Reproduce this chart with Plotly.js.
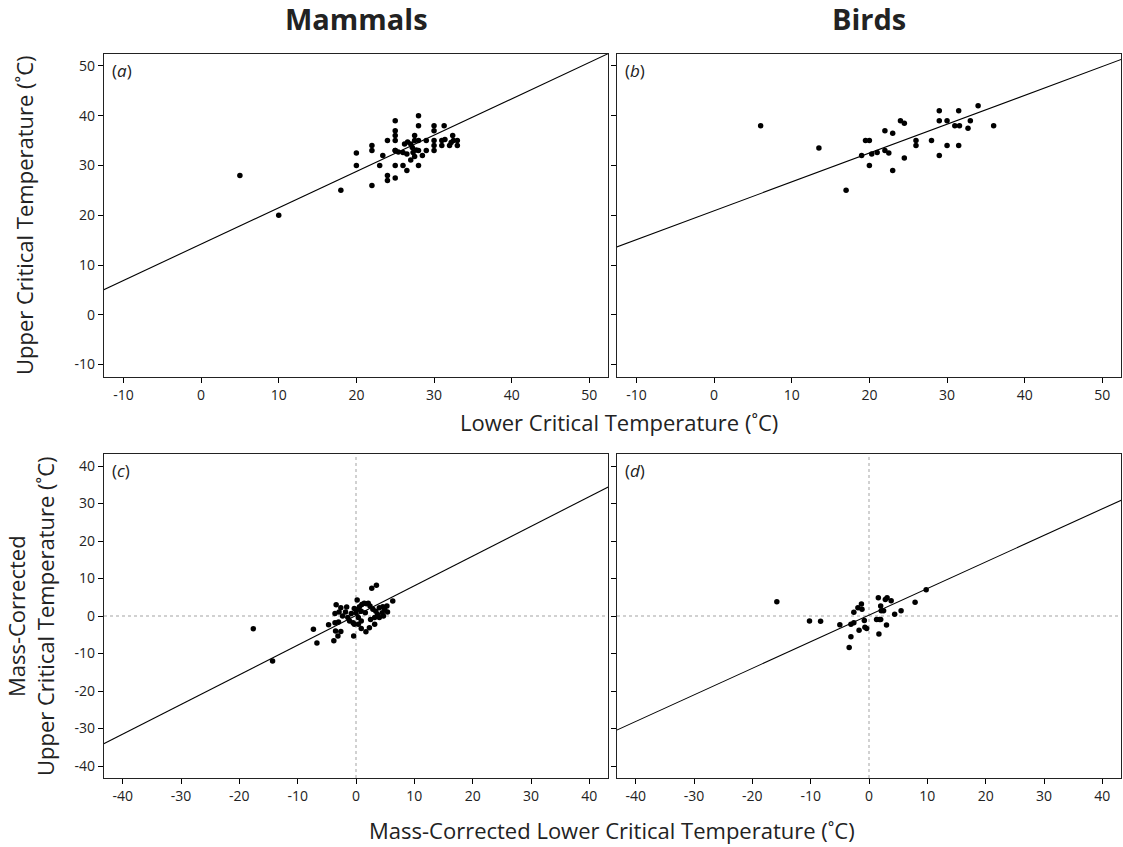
<!DOCTYPE html>
<html>
<head>
<meta charset="utf-8">
<script src="https://cdn.plot.ly/plotly-3.0.1.min.js"></script>
<style>html,body{margin:0;padding:0;background:#fff;}#chart{width:1123px;height:847px;}</style>
</head>
<body>
<div id="chart"></div>
<script>
// ---- Data: (a) Mammals, raw critical temperatures ----
const mammalsLCT = [5,10,18,20,20,22,22,22,23,23.4,24,24,24,25,25,25,25,25,25,25,25.4,25,26,26.5,26,26.5,26.2,26.6,27,27.5,27.5,28,27.2,27.7,27.3,27.5,27,28,28.5,28,28,28,29,29,30,30,30,30,30,31.3,31,31,31.4,32,32.4,32.5,32.2,33,33];
const mammalsUCT = [28,20,25,32.5,30,34,33,26,30,32,35,28,27,39,37,36,35,33,30,27.5,32.7,33,30,29,32.6,32.3,34.3,34.7,34.3,36,35,35,33.6,33.1,32.6,31.8,31.1,33,32,30,40,38,35,33,38,37,35,34,33,38,35,34,35.2,34,36,35,34.6,35,34];
// ---- (b) Birds, raw ----
const birdsLCT = [6,13.5,17,19,19.5,20,20,20.3,21,22,22,22.5,23,23,24,24.5,24.5,26,26,28,29,29,29,30,30,31,31.5,31.6,31.5,32.7,33,34,36];
const birdsUCT = [38,33.5,25,32,35,35,30,32.3,32.6,37,33,32.5,36.5,29,39,38.5,31.5,35,34,35,41,39,32,39,34,38,41,38,34,37.5,39,42,38];
// ---- (c) Mammals, mass-corrected ----
const mammalsMCL = [-17.6,-14.3,-7.3,-6.7,-4.7,-3.8,-3.5,-3.1,-2.6,-3.6,-3.0,-3.6,-3.4,-2.6,-2.9,-2.3,-1.6,-1.8,-1.4,-1.1,-0.8,-0.5,-0.4,-0.3,-0.3,0.2,0,0.3,0.4,0.6,0.9,1.0,1.4,1.8,2.1,2.4,1.6,0.9,0.9,1.7,2.3,2.5,3.2,2.7,3.5,2.9,3.4,3.7,4.0,4.5,4.7,4.9,5.3,5.4,4.6,6.3,3.2,4.0,0.4];
const mammalsMCU = [-3.4,-12.0,-3.5,-7.2,-2.3,-6.6,-4.0,-5.3,-4.1,-1.8,-1.6,0.7,3.0,2.2,1.1,0,2.4,1.1,-0.4,-1.3,0.7,-1.8,-5.3,-2.2,2.0,4.3,0.9,1.8,-0.4,2.5,1.3,3.1,3.4,3.3,3.4,2.7,0.9,-1.3,-3.3,-4.2,-3.1,-0.9,-2.2,7.4,8.2,1.8,1.3,0.4,2.2,0.9,0,1.8,2.7,1.1,2.5,4.0,-0.4,-0.4,-2.2];
// ---- (d) Birds, mass-corrected ----
const birdsMCL = [-15.8,-10.2,-8.3,-5.0,-3.4,-3.1,-3.1,-2.6,-2.6,-1.9,-1.3,-1.2,-1.7,-0.8,-0.7,-0.4,1.3,1.6,1.7,1.8,2.0,2.1,2.5,2.0,2.8,3.1,3.0,3.8,4.4,5.5,7.9,9.8];
const birdsMCU = [3.8,-1.3,-1.4,-2.3,-8.4,-5.5,-2.2,-1.8,1.0,2.2,3.2,1.8,-3.8,-1.2,-3.0,-3.3,-0.9,4.9,-4.8,-0.9,2.7,1.4,1.4,-0.9,4.4,4.9,-2.4,4.1,0.5,1.4,3.7,7.0];
// ---- Fitted lines: [intercept, slope] ----
const fitA = [14.2, 0.730];
const fitB = [20.9, 0.580];
const fitC = [0.15, 0.792];
const fitD = [0.23, 0.709];
// ---- Ticks ----
const rawTicks = [-10,0,10,20,30,40,50];
const rawTickText = ['-10','0','10','20','30','40','50'];
const mcTicks = [-40,-30,-20,-10,0,10,20,30,40];
const mcTickText = ['-40','-30','-20','-10','0','10','20','30','40'];
const panelLabels = ['a','b','c','d'];
const columnTitles = ['Mammals','Birds'];

const rawRange = [-12.5, 52.4];
const mcRange = [-43.2, 43.2];

function fitLine(fit, rng, xa, ya){
  const xs = [rng[0]-5, rng[1]+5];
  return {x: xs, y: xs.map(v => fit[0] + fit[1]*v), xaxis: xa, yaxis: ya,
    mode: 'lines', line: {color: '#000', width: 1.1}, hoverinfo: 'skip', showlegend: false};
}
function pts(xs, ys, xa, ya){
  return {x: xs, y: ys, xaxis: xa, yaxis: ya, mode: 'markers', type: 'scatter',
    marker: {color: '#000', size: 5.5}, showlegend: false, cliponaxis: true};
}

const traces = [
  fitLine(fitA, rawRange, 'x', 'y'), pts(mammalsLCT, mammalsUCT, 'x', 'y'),
  fitLine(fitB, rawRange, 'x2', 'y2'), pts(birdsLCT, birdsUCT, 'x2', 'y2'),
  fitLine(fitC, mcRange, 'x3', 'y3'), pts(mammalsMCL, mammalsMCU, 'x3', 'y3'),
  fitLine(fitD, mcRange, 'x4', 'y4'), pts(birdsMCL, birdsMCU, 'x4', 'y4')
];

const W = 1123, H = 847;
const colA = [104/W, 608/W], colB = [617/W, 1121/W];
const rowTop = [1-377/H, 1-54/H], rowBot = [1-778/H, 1-454/H];
const FAM = 'Open Sans, Noto Sans, sans-serif';
const tickFont = {family: FAM, size: 14, color: '#222'};

function ax(domain, rng, tv, tt, showLabels, anchor){
  return {domain: domain, range: rng, tickmode: 'array', tickvals: tv, ticktext: tt,
    showticklabels: showLabels, ticks: 'outside', ticklen: 5, tickwidth: 1, tickcolor: '#000',
    showline: true, linecolor: '#222', linewidth: 1.3, mirror: true, showgrid: false,
    zeroline: false, tickfont: tickFont, anchor: anchor, fixedrange: true};
}

const annFont = {family: FAM, size: 22, color: '#222'};
const annotations = [];
['x','x2','x3','x4'].forEach((xa, i) => {
  const ya = ['y','y2','y3','y4'][i];
  annotations.push({text: '(<i>' + panelLabels[i] + '</i>)', xref: xa + ' domain', yref: ya + ' domain',
    x: 0.012, y: 0.99, xanchor: 'left', yanchor: 'top', showarrow: false,
    font: {family: FAM, size: 17, color: '#222'}});
});
function paperAnn(text, px, py, font, angle){
  return {text: text, xref: 'paper', yref: 'paper', x: px/W, y: 1-py/H, xanchor: 'center', yanchor: 'middle',
    textangle: angle || 0, showarrow: false, font: font};
}
const titleFont = {family: FAM, size: 29, color: '#222'};
annotations.push(paperAnn('<b>' + columnTitles[0] + '</b>', (colA[0]+colA[1])/2*W, 19, titleFont));
annotations.push(paperAnn('<b>' + columnTitles[1] + '</b>', (colB[0]+colB[1])/2*W, 19, titleFont));
annotations.push(paperAnn('Lower Critical Temperature (˚C)', 619, 422, annFont));
annotations.push(paperAnn('Mass-Corrected Lower Critical Temperature (˚C)', 612, 830, annFont));
annotations.push(paperAnn('Upper Critical Temperature (˚C)', 24, 215, annFont, -90));
annotations.push(paperAnn('Mass-Corrected<br>Upper Critical Temperature (˚C)', 30, 616, annFont, -90));

const dash = {color: '#999', width: 0.9, dash: '3px,3px'};
const shapes = [
  {type: 'line', xref: 'x3', yref: 'y3 domain', x0: 0, x1: 0, y0: 0, y1: 1, line: dash, layer: 'below'},
  {type: 'line', xref: 'x3 domain', yref: 'y3', x0: 0, x1: 1, y0: 0, y1: 0, line: dash, layer: 'below'},
  {type: 'line', xref: 'x4', yref: 'y4 domain', x0: 0, x1: 0, y0: 0, y1: 1, line: dash, layer: 'below'},
  {type: 'line', xref: 'x4 domain', yref: 'y4', x0: 0, x1: 1, y0: 0, y1: 0, line: dash, layer: 'below'}
];

const layout = {
  width: W, height: H, margin: {l: 0, r: 0, t: 0, b: 0},
  paper_bgcolor: '#fff', plot_bgcolor: '#fff', showlegend: false,
  xaxis: ax(colA, rawRange, rawTicks, rawTickText, true, 'y'),
  yaxis: ax(rowTop, rawRange, rawTicks, rawTickText, true, 'x'),
  xaxis2: ax(colB, rawRange, rawTicks, rawTickText, true, 'y2'),
  yaxis2: ax(rowTop, rawRange, rawTicks, rawTickText, false, 'x2'),
  xaxis3: ax(colA, mcRange, mcTicks, mcTickText, true, 'y3'),
  yaxis3: ax(rowBot, mcRange, mcTicks, mcTickText, true, 'x3'),
  xaxis4: ax(colB, mcRange, mcTicks, mcTickText, true, 'y4'),
  yaxis4: ax(rowBot, mcRange, mcTicks, mcTickText, false, 'x4'),
  annotations: annotations, shapes: shapes
};

Plotly.newPlot('chart', traces, layout, {displayModeBar: false, staticPlot: true});
</script>
</body>
</html>
